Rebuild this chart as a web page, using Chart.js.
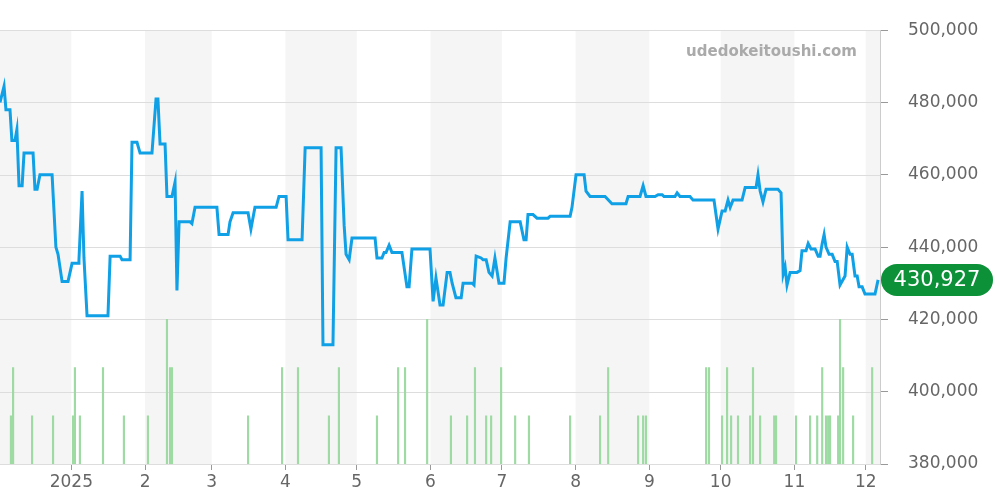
<!DOCTYPE html>
<html><head><meta charset="utf-8">
<script src="https://cdn.jsdelivr.net/npm/chart.js@4"></script>
<style>html,body{margin:0;padding:0;background:#fff}#w{width:1000px;height:500px}</style>
</head><body><div id="w"><canvas id="c"></canvas></div>
<script>
// x values = days since 2024-12-02
const monthDays = [30, 61, 89, 120, 150, 181, 211, 242, 273, 303, 334, 364];
const monthLabels = ['2025','2','3','4','5','6','7','8','9','10','11','12'];
const shadeStarts = [-10, 61, 120, 181, 242, 303, 364];
const shadeEnds   = [30, 89, 150, 211, 273, 334, 400];
const priceDays = [
0,1.7,2.5,4.2,5,6.3,7.1,8,9.3,10.1,
13.9,14.7,15.6,16.8,21.9,23.5,24.4,26.1,28.6,30.3,
32.8,33.2,34.5,35.3,36.6,45.4,46.3,50.5,51.3,54.7,
55.5,57.6,58.9,63.9,65.6,66.4,67.3,69.4,70.2,72.3,
73.6,74.4,75.3,79.9,80.7,82,91.2,92.1,95.9,96.7,
98,104.3,105.5,107.2,116.1,117.3,120.3,121.1,127,128.3,
135,135.8,140,141.3,143.4,144.7,145.5,146.8,148,157.7,
158.5,160.6,161.5,162.3,163.6,164.8,166.1,169,171.1,172,
173.2,180.8,182.1,183.3,185,186.3,188,189.2,190.1,191.7,
193.9,194.7,198.5,199.3,200.2,202.3,203.1,204.4,205.6,206.9,
208.1,209.8,211.9,212.8,214.5,218.7,220.3,221.2,222,224.1,
225.8,230.4,231.3,239.7,240.5,242.2,245.6,246.4,248.1,254.4,
257.3,263.2,264.1,269.1,270.4,271.6,275.4,276.7,278.4,279.2,
283.8,284.7,285.9,290.1,291.4,300.2,301.9,303.6,304.9,306.1,
307,308.2,312,313.3,317.9,318.7,319.6,320.8,322.1,327.1,
328.4,329.3,330.1,330.9,332.2,335.1,336.4,337.2,338.9,339.8,
341,342.7,344,344.8,345.7,346.5,347.3,348.6,349.9,351.1,
352,353.2,355.3,356.2,357.4,358.3,359.5,360.4,361.2,362.5,
363.7,367.9,369.2];
const prices = [
480000,484500,478000,478000,469500,469500,472500,457000,457000,466000,
466000,456000,456000,460000,460000,440000,438000,430500,430500,435500,
435500,436500,455500,437000,421000,421000,437500,437500,436500,436500,
469000,469000,466000,466000,481000,481000,468500,468500,454000,454000,
458000,428000,447000,447000,446500,451000,451000,443500,443500,447000,
449500,449500,445000,451000,451000,454000,454000,442000,442000,467500,
467500,413000,413000,467500,467500,446000,438000,436500,442500,442500,
437000,437000,438500,438500,440500,438500,438500,438500,429000,429000,
439500,439500,425000,431500,424000,424000,433000,433000,430000,426000,
426000,430000,430000,429500,437500,437000,436500,436500,433000,432000,
437000,430000,430000,437000,447000,447000,442000,442000,449000,449000,
448000,448000,448500,448500,451000,460000,460000,455500,454000,454000,
452000,452000,454000,454000,457000,454000,454000,454500,454500,454000,
454000,455000,454000,454000,453000,453000,445000,450000,450000,453000,
451000,453000,453000,456500,456500,460000,455500,452500,456000,456000,
455000,432500,434500,429500,433000,433000,433500,439000,439000,441000,
439500,439500,437500,437500,441000,443500,440000,438000,438000,436000,
436000,429500,432000,440000,438000,438000,432000,432000,429000,429000,
427000,427000,430927];
const volDays = [4.6,5.5,13.5,22.3,30.7,31.5,33.6,43.3,52.1,62.2,70.2,71.5,72.3,104.3,118.6,125.3,138.3,142.5,158.5,167.4,170.3,179.6,189.6,196.4,199.7,204.4,206.5,210.7,216.6,222.4,239.7,252.3,255.7,268.3,270.4,271.6,296.9,298.1,303.6,305.7,307.4,310.3,315.4,316.6,319.6,325.5,326.3,334.7,340.6,343.6,345.7,347.3,348.2,349,352.4,353.2,354.5,358.7,366.7];
const volumes = [1,2,1,1,1,2,1,2,1,1,3,2,2,1,2,2,1,2,1,2,2,3,1,1,2,1,1,2,1,1,1,1,2,1,1,1,2,2,1,2,1,1,1,2,1,1,1,1,1,1,2,1,1,1,1,3,2,1,2];
const yTicks = [380000,400000,420000,440000,460000,480000,500000];
const lastPrice = 430927;

const bgPlugin = {id:'bg', beforeDatasetsDraw(ch){
  const {ctx, chartArea:a, scales:{x,y}} = ch; ctx.save(); ctx.fillStyle='#f5f5f5';
  for(let i=0;i<shadeStarts.length;i++){
    const l=Math.max(a.left,x.getPixelForValue(shadeStarts[i])), r=Math.min(a.right,x.getPixelForValue(shadeEnds[i]));
    if(r>l) ctx.fillRect(l,a.top,r-l,a.bottom-a.top);
  }
  ctx.strokeStyle='#ddd'; ctx.lineWidth=1;
  yTicks.forEach(v=>{const py=Math.round(y.getPixelForValue(v))+0.5; ctx.beginPath(); ctx.moveTo(a.left,py); ctx.lineTo(a.right,py); ctx.stroke();});
  ctx.restore();
}};
const topPlugin = {id:'top', afterDraw(ch){
  const {ctx, chartArea:a, scales:{y}} = ch; ctx.save();
  ctx.font='bold 15px "DejaVu Sans"'; ctx.fillStyle='#aaa'; ctx.textAlign='right'; ctx.textBaseline='middle';
  ctx.fillText('udedokeitoushi.com', 857, 52);
  const py=y.getPixelForValue(lastPrice); const l=a.right+1, w=112, h=32, r=16;
  ctx.fillStyle='#0c9139'; ctx.beginPath(); ctx.roundRect(l,py-h/2,w,h,r); ctx.fill();
  ctx.fillStyle='#fff'; ctx.font='21px "DejaVu Sans"'; ctx.textAlign='center'; ctx.fillText('430,927', l+w/2, py+1);
  ctx.restore();
}};
new Chart(document.getElementById('c'), {
  data:{datasets:[
    {type:'line', data:priceDays.map((d,i)=>({x:d,y:prices[i]})), borderColor:'#0fa0e6', borderWidth:3, pointRadius:0, tension:0, yAxisID:'y', order:1},
    {type:'bar', data:volDays.map((d,i)=>({x:d,y:volumes[i]})), backgroundColor:'#9ddba3', barThickness:1.5, yAxisID:'v', order:2}
  ]},
  options:{animation:false, responsive:true, maintainAspectRatio:false, devicePixelRatio:1,
    layout:{padding:{top:30,left:0,right:0}},
    plugins:{legend:{display:false}, tooltip:{enabled:false}},
    scales:{
      x:{type:'linear', offset:false, min:0, max:370, afterBuildTicks(s){s.ticks=monthDays.map(v=>({value:v}));},
        ticks:{callback:(v)=>monthLabels[monthDays.indexOf(v)], color:'#666', font:{size:17, family:'DejaVu Sans'}, maxRotation:0, autoSkip:false, padding:2},
        grid:{drawOnChartArea:false, offset:false, tickLength:6, color:'#999'}, border:{color:'#ccc'}, afterFit(s){s.height=36;}},
      y:{position:'right', min:380000, max:500000, afterBuildTicks(s){s.ticks=yTicks.map(v=>({value:v}));},
        ticks:{callback:v=>v.toLocaleString('en-US'), color:'#666', font:{size:17, family:'DejaVu Sans'}, padding:20},
        grid:{drawOnChartArea:false, tickLength:8, color:'#999'}, border:{color:'#ccc'}, afterFit(s){s.width=120;}},
      v:{display:false, min:0, max:9}
    }},
  plugins:[bgPlugin, topPlugin]
});
</script></body></html>
